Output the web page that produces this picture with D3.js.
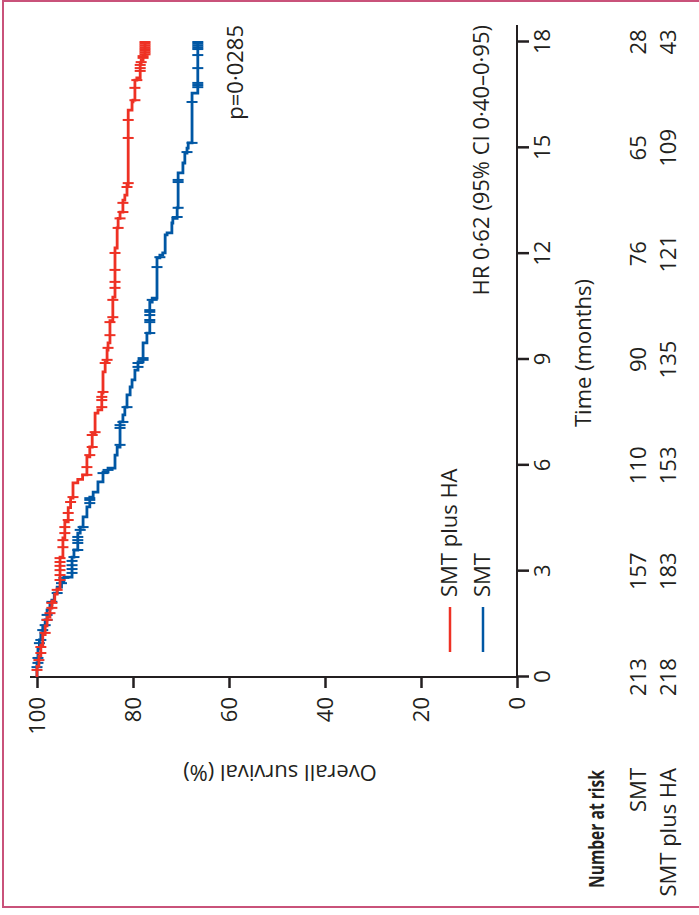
<!DOCTYPE html>
<html>
<head>
<meta charset="utf-8">
<script src="https://cdn.jsdelivr.net/npm/d3@7"></script>
<style>
  body { margin: 0; background: #fff; }
  svg { display: block; }
  text { font-family: "Open Sans", sans-serif; fill: #231f20; }
</style>
</head>
<body>
<svg id="chart" width="699" height="915"></svg>
<script>
// ---- data ----
const timeTicks = [0, 3, 6, 9, 12, 15, 18];
const survTicks = [0, 20, 40, 60, 80, 100];
const riskSMT = [213, 157, 110, 90, 76, 65, 28];
const riskHA = [218, 183, 153, 135, 121, 109, 43];

// [month, survival % after the drop]
const stepsHA = [
  [0, 100], [0.3, 99.6], [0.6, 99.2], [0.9, 98.8], [1.2, 98.3], [1.45, 97.9], [1.7, 97.3],
  [1.95, 96.9], [2.15, 96.3], [2.35, 95.8], [2.5, 95.2], [3.4, 94.6], [3.94, 94.2],
  [4.4, 93.5], [4.8, 93.0], [5.07, 92.5], [5.5, 91.5], [5.6, 90.5], [5.73, 89.6],
  [6.24, 89.0], [6.52, 88.5], [6.92, 87.9], [7.48, 87.3], [7.57, 86.5], [8.05, 86.25],
  [8.65, 85.8], [8.93, 85.4], [9.27, 85.2], [9.47, 84.8], [10.1, 84.2], [10.77, 83.75],
  [12.16, 83.3], [12.73, 83.1], [13.0, 82.7], [13.18, 82.1], [13.52, 81.7], [13.66, 81.25],
  [13.95, 81.0], [16.07, 80.2], [16.3, 80.0], [16.35, 79.6], [16.92, 79.2], [16.98, 78.5],
  [17.4, 78.3], [17.49, 77.9], [17.63, 77.5]
];
const stepsSMT = [
  [0, 100], [0.4, 99.8], [0.8, 99.5], [1.05, 99.2], [1.25, 98.8], [1.45, 98.3], [1.62, 97.9],
  [1.9, 97.3], [2.05, 96.9], [2.18, 96.4], [2.38, 95.8], [2.55, 94.9], [2.69, 94.4],
  [2.83, 92.7], [3.4, 92.3], [3.6, 91.5], [4.08, 91.0], [4.25, 90.4], [4.54, 89.6],
  [4.82, 89.0], [5.1, 88.3], [5.24, 87.3], [5.53, 86.25], [5.81, 85.2], [5.92, 83.75],
  [6.29, 83.3], [6.52, 82.7], [7.23, 82.1], [7.43, 81.7], [7.65, 81.25], [8.0, 80.6],
  [8.22, 80.2], [8.42, 79.6], [8.7, 78.96], [8.93, 77.9], [9.47, 77.1], [9.75, 76.5],
  [10.63, 76.0], [10.74, 75.0], [11.88, 74.4], [11.96, 73.8], [12.02, 73.3], [12.53, 72.9],
  [12.59, 71.9], [12.87, 71.7], [13.0, 70.8], [13.3, 70.6], [14.29, 69.6], [14.57, 69.2],
  [14.85, 68.75], [14.99, 68.5], [15.14, 67.7], [16.55, 66.5]
];
const censorHA = [
  0.2, 0.48, 0.68, 0.85, 1.25, 1.62, 1.81, 1.96, 2.1, 2.47, 2.75, 2.89, 3.03, 3.15, 3.26,
  3.37, 3.68, 3.88, 4.08, 4.25, 4.45, 4.65, 4.96, 5.1, 5.73, 5.95, 6.29, 6.52, 6.86, 6.94,
  7.65, 7.85, 7.94, 8.08, 8.9, 8.99, 9.33, 9.69, 10.06, 10.2, 10.69, 11.03, 11.2, 11.54,
  12.02, 12.73, 13.0, 13.18, 13.44, 13.89, 14.0, 15.28, 15.79, 16.35, 16.7, 16.92, 17.18,
  17.26, 17.35, 17.43, 17.55, 17.6, 17.65, 17.7, 17.75, 17.8, 17.85, 17.9, 17.95, 18.0
];
const censorSMT = [
  0.28, 0.4, 0.54, 0.96, 1.05, 1.33, 1.47, 1.62, 1.76, 2.13, 2.38, 2.66, 2.81, 2.95, 3.06,
  3.17, 3.29, 3.4, 3.6, 3.8, 3.88, 3.97, 4.17, 4.25, 4.93, 5.02, 5.07, 5.78, 5.87, 6.58,
  7.06, 7.14, 7.23, 7.65, 8.79, 8.9, 8.99, 9.04, 9.75, 10.06, 10.12, 10.26, 10.35, 10.4,
  10.69, 11.62, 11.9, 13.04, 13.3, 14.03, 14.09, 14.88, 15.14, 16.3, 16.72, 16.78, 16.84,
  17.26, 17.63, 17.8, 17.85, 17.9, 17.95, 18.0
];

const RED = '#ee3124', BLUE = '#0057a4', INK = '#231f20';
const FS = 22;

const svg = d3.select('#chart');

// page frame
svg.append('rect')
  .attr('x', 3).attr('y', 1).attr('width', 740).attr('height', 906)
  .attr('fill', 'none').attr('stroke', '#c9527a').attr('stroke-width', 2);

// whole chart is drawn upright, then turned a quarter to the left
const g = svg.append('g').attr('transform', 'translate(0,915) rotate(-90)');

const x = d3.scaleLinear().domain([0, 18]).range([238, 873]);
const y = d3.scaleLinear().domain([0, 100]).range([517, 37]);

// axes
const xAxis = g.append('g')
  .attr('transform', 'translate(0,517)')
  .call(d3.axisBottom(x).tickValues(timeTicks).tickSize(12).tickPadding(5));
const yAxis = g.append('g')
  .attr('transform', 'translate(238,0)')
  .call(d3.axisLeft(y).tickValues(survTicks).tickSize(11).tickPadding(9));
[xAxis, yAxis].forEach(a => {
  a.select('.domain').remove();
  a.attr('font-size', FS).attr('font-family', '"Open Sans", sans-serif').attr('color', INK);
  a.selectAll('line').attr('stroke-width', 2.5);
});
g.append('line').attr('x1', 238).attr('x2', 890).attr('y1', 517).attr('y2', 517)
  .attr('stroke', INK).attr('stroke-width', 2);
g.append('line').attr('x1', 238).attr('x2', 238).attr('y1', 30).attr('y2', 517)
  .attr('stroke', INK).attr('stroke-width', 2);

// KM curves
const line = d3.line().x(d => x(d[0])).y(d => y(d[1])).curve(d3.curveStepAfter);
const survAt = (steps, t) => {
  const i = d3.bisector(d => d[0]).right(steps, t) - 1;
  return steps[Math.max(0, i)][1];
};
const series = [
  { steps: stepsSMT, censor: censorSMT, color: BLUE },
  { steps: stepsHA, censor: censorHA, color: RED }
];
series.forEach(s => {
  const pts = s.steps.concat([[18, s.steps[s.steps.length - 1][1]]]);
  g.append('path').attr('d', line(pts))
    .attr('fill', 'none').attr('stroke', s.color).attr('stroke-width', 2.8);
  g.append('g').selectAll('line').data(s.censor).enter().append('line')
    .attr('x1', d => x(d)).attr('x2', d => x(d))
    .attr('y1', d => y(survAt(s.steps, d)) - 5.5)
    .attr('y2', d => y(survAt(s.steps, d)) + 5.5)
    .attr('stroke', s.color).attr('stroke-width', 2);
});

// legend
[['SMT plus HA', RED, 450, 457], ['SMT', BLUE, 483, 490]].forEach(([lab, c, ly, by]) => {
  g.append('line').attr('x1', 263).attr('x2', 308).attr('y1', ly).attr('y2', ly)
    .attr('stroke', c).attr('stroke-width', 2.5);
  g.append('text').attr('x', 318).attr('y', by).attr('font-size', FS).text(lab);
});

// annotations
g.append('text').attr('x', 890).attr('y', 243).attr('text-anchor', 'end')
  .attr('font-size', FS).text('p=0·0285');
g.append('text').attr('x', 890).attr('y', 489).attr('text-anchor', 'end')
  .attr('font-size', FS).text('HR 0·62 (95% CI 0·40–0·95)');

// axis titles
g.append('text').attr('x', 562).attr('y', 591).attr('text-anchor', 'middle')
  .attr('font-size', FS).text('Time (months)');
g.append('text').attr('transform', 'translate(150,280) rotate(-90)')
  .attr('text-anchor', 'middle').attr('font-size', FS).text('Overall survival (%)');

// number at risk
g.append('text').attr('x', 27).attr('y', 604).attr('font-size', FS)
  .attr('font-weight', 'bold')
  .attr('textLength', 118).attr('lengthAdjust', 'spacingAndGlyphs')
  .text('Number at risk');
[['SMT', riskSMT, 646], ['SMT plus HA', riskHA, 676]].forEach(([lab, vals, by]) => {
  g.append('text').attr('x', 147).attr('y', by).attr('text-anchor', 'end')
    .attr('font-size', FS).text(lab);
  g.append('g').selectAll('text').data(vals).enter().append('text')
    .attr('x', (d, i) => x(timeTicks[i])).attr('y', by)
    .attr('text-anchor', 'middle').attr('font-size', FS).text(d => d);
});
</script>
</body>
</html>
